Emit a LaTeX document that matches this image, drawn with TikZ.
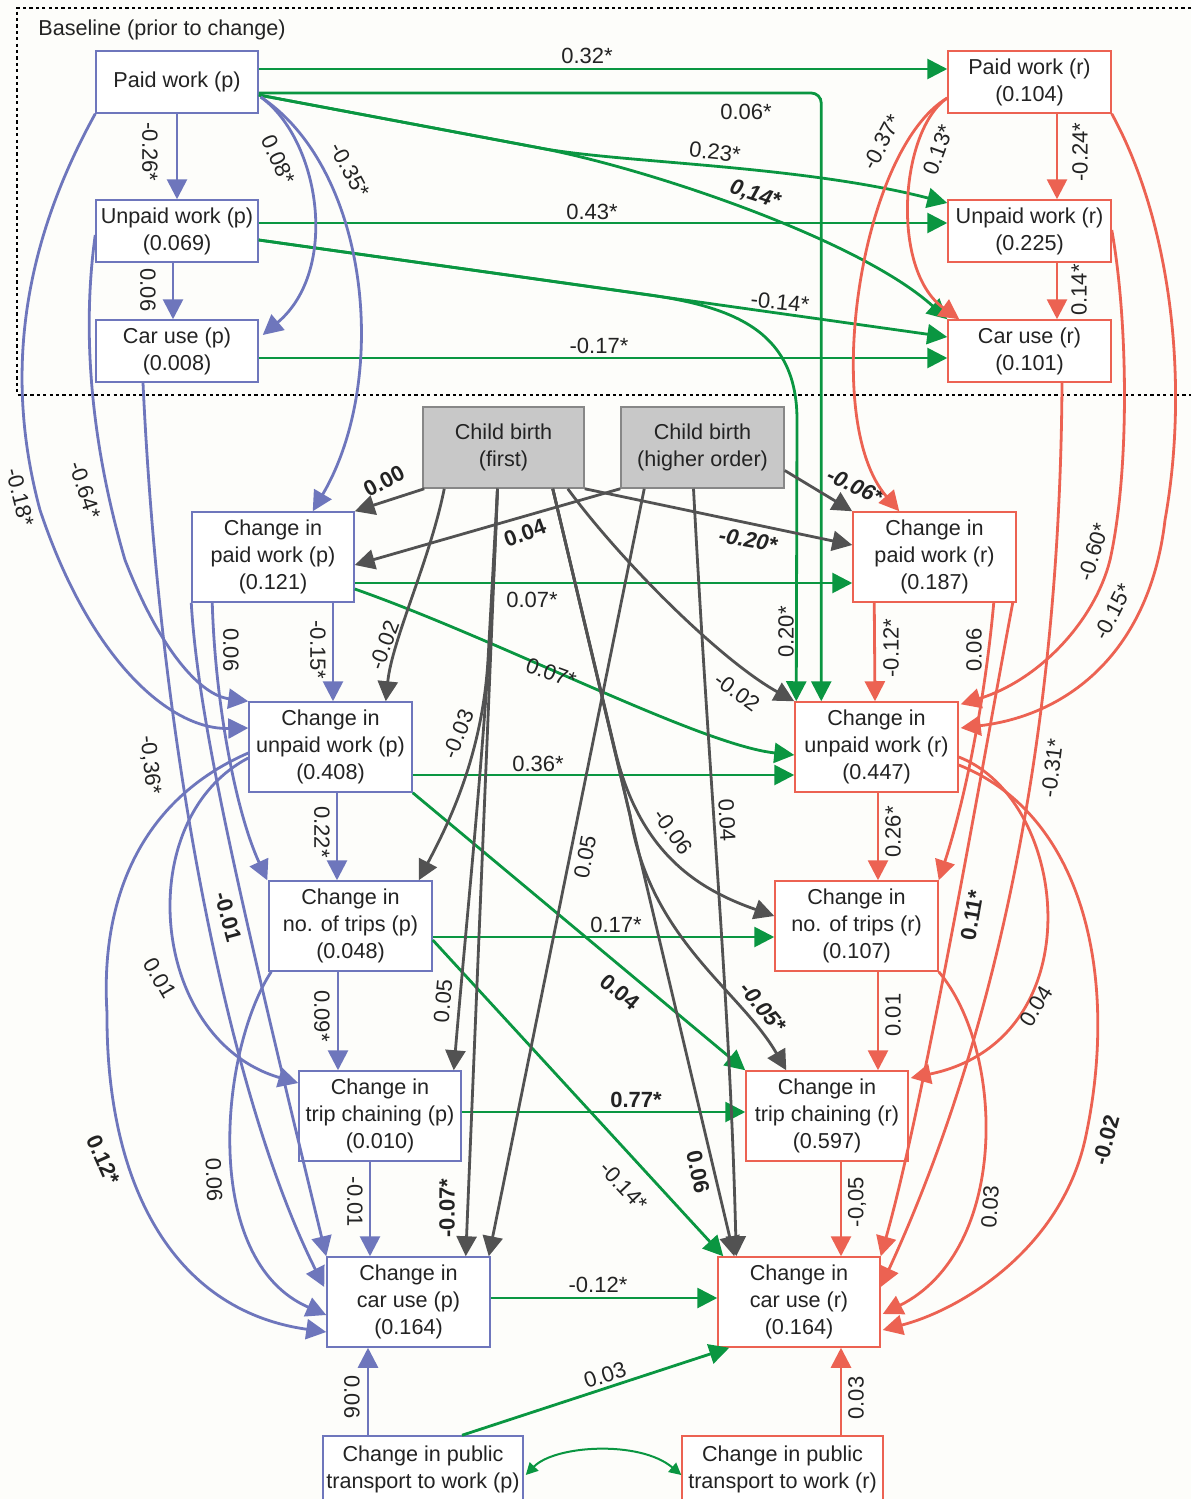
\documentclass[tikz,border=0pt]{standalone}
\usepackage{fontspec}
\setmainfont{Liberation Sans}
\usetikzlibrary{arrows.meta,calc}
\definecolor{blu}{RGB}{110,118,188}
\definecolor{rdd}{RGB}{236,98,82}
\definecolor{grn}{RGB}{10,150,65}
\definecolor{gry}{RGB}{82,82,82}
\definecolor{cbfill}{RGB}{200,200,200}
\definecolor{cbdraw}{RGB}{135,135,135}
\definecolor{txt}{RGB}{35,35,35}
\definecolor{bgc}{RGB}{253,253,250}
\newcommand{\boxfont}{\fontsize{10.8}{13.5}\selectfont}
\newcommand{\labfont}{\fontsize{11}{13}\selectfont}
\begin{document}
\begin{tikzpicture}[x=0.5pt,y=-0.5pt,
  bx/.style={draw, fill=white, line width=0.75pt, inner sep=0pt, align=center, font=\boxfont, text=txt},
  bb/.style={bx, draw=blu},
  rb/.style={bx, draw=rdd},
  bsz/.style={minimum width=81pt, minimum height=31pt},
  chg/.style={minimum width=81pt, minimum height=45pt},
  cbb/.style={bx, fill=cbfill, draw=cbdraw, minimum width=80.5pt, minimum height=40.5pt},
  con/.style={line width=1.4pt, -{Triangle[length=10pt,width=10pt]}},
  eb/.style={con, draw=blu},
  er/.style={con, draw=rdd},
  eg/.style={con, draw=grn},
  ek/.style={con, draw=gry},
  lab/.style={font=\labfont, text=txt, inner sep=0.5pt},
  bl/.style={lab, font=\labfont\bfseries},
  bi/.style={lab, font=\labfont\bfseries\itshape},
  dotfr/.style={draw=black, line width=0.9pt, dash pattern=on 1.6pt off 1.6pt}
]
\fill[bgc] (0,0) rectangle (1191,1499);
\useasboundingbox (0,0) rectangle (1191,1499);
\draw[dotfr] (1191,8) -- (17,8) -- (17,395) -- (1191,395);
\node[anchor=west, font=\boxfont, text=txt, inner sep=0pt] (baselab) at (38,30) {Baseline (prior to change)};

% ---------- nodes ----------
\node[bb,bsz] (pwp) at (177,82) {Paid work (p)};
\node[bb,bsz] (uwp) at (177,231) {Unpaid work (p)\\(0.069)};
\node[bb,bsz] (cup) at (177,351) {Car use (p)\\(0.008)};
\node[rb,bsz,minimum width=81.5pt] (pwr) at (1029.5,82) {Paid work (r)\\(0.104)};
\node[rb,bsz,minimum width=81.5pt] (uwr) at (1029.5,231) {Unpaid work (r)\\(0.225)};
\node[rb,bsz,minimum width=81.5pt] (cur) at (1029.5,351) {Car use (r)\\(0.101)};
\node[cbb] (cb1) at (503.5,447.5) {Child birth\\(first)};
\node[cbb,minimum width=81.5pt] (cb2) at (702.5,447.5) {Child birth\\(higher order)};
\node[bb,chg] (dpwp) at (273,557) {Change in\\paid work (p)\\(0.121)};
\node[bb,chg,minimum width=81.5pt] (duwp) at (330.5,747) {Change in\\unpaid work (p)\\(0.408)};
\node[bb,chg,minimum width=81.5pt] (dntp) at (350.5,926) {Change in\\no. of trips (p)\\(0.048)};
\node[bb,chg] (dtcp) at (380,1116) {Change in\\trip chaining (p)\\(0.010)};
\node[bb,chg,minimum width=81.5pt] (dcup) at (408.5,1302) {Change in\\car use (p)\\(0.164)};
\node[bb,minimum width=100pt,minimum height=33pt] (ptp) at (423,1469) {Change in public\\transport to work (p)};
\node[rb,chg,minimum width=81.5pt] (dpwr) at (934.5,557) {Change in\\paid work (r)\\(0.187)};
\node[rb,chg,minimum width=81.5pt] (duwr) at (876.5,747) {Change in\\unpaid work (r)\\(0.447)};
\node[rb,chg,minimum width=81.5pt] (dntr) at (856.5,926) {Change in\\no. of trips (r)\\(0.107)};
\node[rb,chg] (dtcr) at (827,1116) {Change in\\trip chaining (r)\\(0.597)};
\node[rb,chg] (dcur) at (799,1302) {Change in\\car use (r)\\(0.164)};
\node[rb,minimum width=100.5pt,minimum height=33pt] (ptr) at (782.5,1469) {Change in public\\transport to work (r)};

% ---------- green, baseline ----------
\draw[eg] ($(pwp.east)+(0,-13)$) -- ($(pwr.west)+(0,-13)$) node[lab] at (587,56) {0.32*};
\draw[eg, rounded corners=5pt] ($(pwp.east)+(0,11)$) -| ($(duwr.north west)+(27,0)$) node[lab] at (746,112) {0.06*};
\draw[eg] ($(pwp.east)+(0,13)$) -- (540,148) .. controls (620,163) and (800,165) .. ($(uwr.west)+(0,-28)$) node[lab,rotate=-6] at (715,152) {0.23*};
\draw[eg] ($(pwp.east)+(0,13)$) -- (540,148) .. controls (650,169) and (860,240) .. (cur.north west) node[bi,rotate=-18] at (755,195) {0,14*};
\draw[eg] ($(uwp.east)+(0,-8)$) -- ($(uwr.west)+(0,-8)$) node[lab] at (592,212) {0.43*};
\draw[eg] ($(uwp.east)+(0,9)$) -- ($(cur.west)+(0,-14)$) node[lab,rotate=-6] at (780,302) {-0.14*};
\draw[eg] ($(uwp.east)+(0,9)$) -- (650,295) .. controls (740,308) and (797,335) .. (797,420) -- ($(duwr.north west)+(2,0)$) node[lab,rotate=90] at (786,632) {0.20*};
\draw[eg] ($(cup.east)+(0,7)$) -- ($(cur.west)+(0,7)$) node[lab] at (599,346) {-0.17*};

% ---------- green, change ----------
\draw[eg] ($(dpwp.east)+(0,26)$) -- ($(dpwr.west)+(0,26)$) node[lab] at (532,600) {0.07*};
\draw[eg] ($(dpwp.east)+(0,32)$) .. controls (500,640) and (700,745) .. ($(duwr.west)+(0,8)$) node[lab,rotate=-20] at (551,673) {0.07*};
\draw[eg] ($(duwp.east)+(0,28)$) -- ($(duwr.west)+(0,28)$) node[lab] at (538,764) {0.36*};
\draw[eg] (duwp.south east) -- (dtcr.north west) node[bl,rotate=-40] at (620,992) {0.04};
\draw[eg] ($(dntp.east)+(0,11)$) -- ($(dntr.west)+(0,11)$) node[lab] at (616,925) {0.17*};
\draw[eg] ($(dntp.east)+(0,14)$) -- ($(dcur.north west)+(6,0)$) node[lab,rotate=-47] at (624,1186) {-0.14*};
\draw[eg] ($(dtcp.east)+(0,-4)$) -- ($(dtcr.west)+(0,-4)$) node[bl] at (636,1100) {0.77*};
\draw[eg] ($(dcup.east)+(0,-4)$) -- ($(dcur.west)+(0,-4)$) node[lab] at (598,1285) {-0.12*};
\draw[eg] ($(ptp.north)+(39,0)$) -- ($(dcur.south west)+(12,0)$) node[lab,rotate=18] at (605,1375) {0.03};
\draw[grn, line width=1pt, {Triangle[length=6pt,width=6pt]}-{Triangle[length=6pt,width=6pt]}] ($(ptp.east)+(2,6)$) .. controls (555,1445) and (640,1440) .. ($(ptr.west)+(0,6)$);

% ---------- gray (child birth) ----------
\draw[ek] ($(cb1.south west)+(2,0)$) -- (dpwp.north east) node[bl,rotate=28] at (384,481) {0.00};
\draw[ek] (cb2.south west) -- ($(dpwp.east)+(0,8)$) node[bl,rotate=20] at (525,533) {0.04};
\draw[ek] (cb1.south east) -- ($(dpwr.west)+(0,-12)$) node[bi,rotate=-10] at (748,540) {-0.20*};
\draw[ek] ($(cb2.east)+(0,23)$) -- (dpwr.north west) node[bi,rotate=-25] at (855,486) {-0.06*};
\draw[ek] ($(cb1.south west)+(22,0)$) .. controls (430,560) and (392,640) .. ($(duwp.north east)+(-27,0)$) node[lab,rotate=70] at (384,645) {-0.02};
\draw[ek] ($(cb1.south east)+(-17,0)$) .. controls (620,560) and (720,660) .. (duwr.north west) node[lab,rotate=-36] at (737,692) {-0.02};
\draw[ek] ($(cb1.south)+(-6,0)$) -- (488,660) .. controls (482,760) and (445,830) .. ($(dntp.north east)+(-14,0)$) node[lab,rotate=68] at (458,734) {-0.03};
\draw[ek] ($(cb1.south)+(-6,0)$) .. controls (490,700) and (468,900) .. ($(dtcp.north east)+(-8,0)$) node[lab,rotate=85] at (443,1001) {0.05};
\draw[ek] ($(cb1.south)+(-6,0)$) -- ($(dcup.north east)+(-25,0)$) node[bl,rotate=90] at (447,1208) {-0.07*};
\draw[ek] ($(cb2.south west)+(24,0)$) -- ($(dcup.north east)+(-2,0)$) node[lab,rotate=79] at (585,857) {0.05};
\draw[ek] ($(cb1.south east)+(-32,0)$) -- (615,750) .. controls (640,855) and (700,890) .. ($(dntr.west)+(0,-10)$) node[lab,rotate=-55] at (673,832) {-0.06};
\draw[ek] ($(cb1.south east)+(-32,0)$) -- (630,815) .. controls (650,940) and (740,990) .. ($(dtcr.north west)+(41,0)$) node[bi,rotate=-50] at (763,1007) {-0.05*};
\draw[ek] ($(cb1.south east)+(-32,0)$) -- ($(dcur.north west)+(17,0)$) node[bl,rotate=-78] at (698,1172) {0.06};
\draw[ek] ($(cb2.south)+(-9,0)$) .. controls (710,800) and (730,1000) .. ($(dcur.north west)+(19,0)$) node[lab,rotate=-87] at (727,820) {0.04};

% ---------- red ----------
\draw[er] ($(pwr.south)+(27.5,0)$) -- ($(uwr.north)+(27.5,0)$) node[lab,rotate=90] at (1080,152) {-0.24*};
\draw[er] ($(uwr.south)+(27.5,0)$) -- ($(cur.north)+(27.5,0)$) node[lab,rotate=90] at (1079,290) {0.14*};
\draw[er] ($(pwr.west)+(0,16)$) .. controls (900,130) and (890,270) .. ($(cur.north west)+(12,0)$) node[lab,rotate=70] at (938,150) {0.13*};
\draw[er] ($(pwr.west)+(0,16)$) .. controls (860,150) and (820,420) .. ($(dpwr.north west)+(47,0)$) node[lab,rotate=62] at (882,142) {-0.37*};
\draw[er] ($(uwr.east)+(0,-1)$) .. controls (1128,320) and (1130,470) .. (1110,560) .. controls (1095,620) and (1040,680) .. ($(duwr.north east)+(2,3)$) node[lab,rotate=73] at (1093,552) {-0.60*};
\draw[er] (pwr.south east) .. controls (1170,220) and (1190,380) .. (1165,520) .. controls (1150,650) and (1070,715) .. ($(duwr.east)+(2,-19)$) node[lab,rotate=63] at (1113,612) {-0.15*};
\draw[er] ($(cur.south)+(32.5,0)$) .. controls (1060,750) and (990,1050) .. ($(dcur.east)+(0,-15)$) node[lab,rotate=83] at (1052,768) {-0.31*};
\draw[er] ($(dpwr.south west)+(22,0)$) -- ($(duwr.north)+(-1.5,0)$) node[lab,rotate=90] at (891,648) {-0.12*};
\draw[er] ($(dpwr.south east)+(-23,0)$) .. controls (985,700) and (965,800) .. (dntr.north east) node[lab,rotate=90] at (974,650) {0.06};
\draw[er] ($(dpwr.south east)+(-4,0)$) .. controls (985,750) and (925,1100) .. (dcur.north east) node[bl,rotate=80] at (972,915) {0.11*};
\draw[er] ($(duwr.south)+(1.5,0)$) -- ($(dntr.north)+(21.5,0)$) node[lab,rotate=90] at (893,832) {0.26*};
\draw[er] ($(duwr.east)+(0,10)$) .. controls (1070,800) and (1095,1040) .. ($(dtcr.east)+(2,-38)$) node[lab,rotate=58] at (1036,1006) {0.04};
\draw[er] ($(duwr.east)+(0,18)$) .. controls (1085,815) and (1120,980) .. (1085,1140) .. controls (1060,1250) and (960,1310) .. ($(dcur.east)+(2,28)$) node[bl,rotate=75] at (1106,1140) {-0.02};
\draw[er] ($(dntr.south)+(21.5,0)$) -- ($(dtcr.north)+(51,0)$) node[lab,rotate=90] at (893,1015) {0.01};
\draw[er] (dntr.south east) .. controls (1005,1050) and (1010,1250) .. ($(dcur.east)+(2,12)$) node[lab,rotate=86] at (990,1207) {0.03};
\draw[er] ($(dtcr.south)+(14,0)$) -- ($(dcur.north)+(42,0)$) node[lab,rotate=90] at (857,1202) {-0,05};
\draw[er] ($(ptr.north)+(58.5,0)$) -- ($(dcur.south)+(42,0)$) node[lab,rotate=90] at (856,1398) {0.03};

% ---------- blue ----------
\draw[eb] (pwp.south) -- (uwp.north) node[lab,rotate=-90] at (150,152) {-0.26*};
\draw[eb] ($(uwp.south)+(-4,0)$) -- ($(cup.north)+(-4,0)$) node[lab,rotate=-90] at (148,290) {0.06};
\draw[eb] ($(pwp.east)+(2,15)$) .. controls (320,140) and (340,270) .. ($(cup.east)+(4,-16)$) node[lab,rotate=-65] at (278,160) {0.08*};
\draw[eb] ($(pwp.east)+(2,15)$) .. controls (370,170) and (390,380) .. ($(dpwp.north east)+(-42,0)$) node[lab,rotate=-62] at (350,170) {-0.35*};
\draw[eb] (pwp.south west) .. controls (20,250) and (5,380) .. (40,510) .. controls (90,660) and (170,730) .. ($(duwp.west)+(0,-19)$) node[lab,rotate=-76] at (20,497) {-0.18*};
\draw[eb] ($(uwp.west)+(0,4)$) .. controls (82,330) and (90,440) .. (125,560) .. controls (160,650) and (200,695) .. (duwp.north west) node[lab,rotate=-72] at (85,490) {-0.64*};
\draw[eb] ($(cup.south)+(-34,0)$) .. controls (160,750) and (230,1100) .. ($(dcup.west)+(-2,-15)$) node[lab,rotate=-84] at (150,765) {-0,36*};
\draw[eb] ($(dpwp.south)+(60,0)$) -- ($(duwp.north)+(2.5,0)$) node[lab,rotate=-90] at (318,650) {-0.15*};
\draw[eb] ($(dpwp.south west)+(21,0)$) .. controls (215,700) and (235,810) .. ($(dntp.north west)+(-1,0)$) node[lab,rotate=-90] at (231,650) {0.06};
\draw[eb] (dpwp.south west) .. controls (198,720) and (240,900) .. (dcup.north west) node[bl,rotate=-75] at (228,917) {-0.01};
\draw[eb] ($(duwp.south)+(6.5,0)$) -- ($(dntp.north)+(-13.5,0)$) node[lab,rotate=-90] at (322,832) {0.22*};
\draw[eb] ($(duwp.west)+(0,11)$) .. controls (130,820) and (150,1040) .. ($(dtcp.west)+(0,-33)$) node[lab,rotate=-60] at (160,978) {0.01};
\draw[eb] ($(duwp.west)+(0,6)$) .. controls (140,800) and (100,900) .. (107,1013) .. controls (106,1180) and (170,1310) .. ($(dcup.west)+(0,30)$) node[bl,rotate=-66] at (103,1160) {0.12*};
\draw[eb] ($(dntp.south)+(-12.5,0)$) -- ($(dtcp.north)+(-42,0)$) node[lab,rotate=-90] at (322,1016) {0.09*};
\draw[eb] ($(dntp.south west)+(3,0)$) .. controls (220,1050) and (200,1260) .. ($(dcup.west)+(0,13)$) node[lab,rotate=-88] at (214,1180) {0.06};
\draw[eb] ($(dtcp.south)+(-10,0)$) -- ($(dcup.north)+(-38.5,0)$) node[lab,rotate=-90] at (355,1202) {-0.01};
\draw[eb] ($(ptp.north)+(-55,0)$) -- ($(dcup.south)+(-40.5,0)$) node[lab,rotate=-90] at (352,1397) {0.06};
\end{tikzpicture}
\end{document}
